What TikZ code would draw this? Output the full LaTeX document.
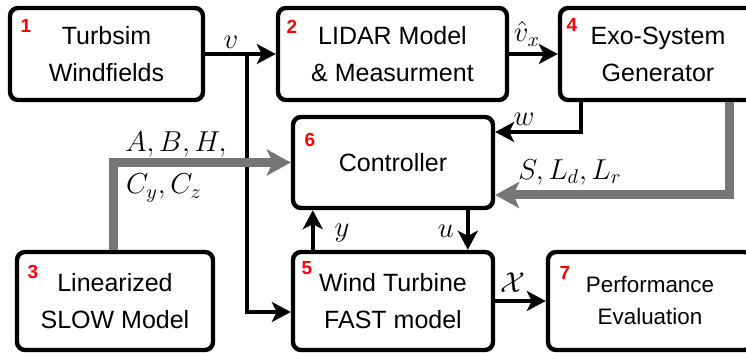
\documentclass[tikz,border=0pt]{standalone}
\usepackage{fontspec}
\setmainfont{Liberation Sans}
\usetikzlibrary{arrows.meta}
\definecolor{bargray}{RGB}{118,118,118}
\begin{document}
\begin{tikzpicture}[
	x=0.5pt, y=-0.5pt,
	block/.style={ draw, line width=2.2pt, rounded corners=4pt, align=center, inner sep=0pt, font=\fontsize{12.5}{18.5}\selectfont },
	num/.style={ red, font=\fontsize{9.5}{10}\selectfont\bfseries, inner sep=0pt },
	sig/.style={ line width=2pt, -{Stealth[length=9.5pt,width=10pt,inset=2.5pt]} },
	par/.style={ bargray, line width=4.5pt, -{Stealth[length=12pt,width=13pt,inset=3pt]} },
	lab/.style={ font=\fontsize{14.5}{17}\selectfont, inner sep=0pt }
]
\clip (0,0) rectangle (746,353);

\node[block, minimum width=96.5pt, minimum height=46pt] at (106.5,54) (turbsim) {Turbsim\\Windfields};
\node[block, minimum width=114.5pt, minimum height=46pt] at (392.5,54) (lidar) {LIDAR Model\\\& Measurment};
\node[block, minimum width=98pt, minimum height=46pt] at (658,54) (exo) {Exo-System\\Generator};
\node[block, minimum width=100pt, minimum height=45.5pt] at (393,162.5) (ctrl) {Controller};
\node[block, minimum width=98pt, minimum height=49pt] at (115,301) (slow) {Linearized\\SLOW Model};
\node[block, minimum width=100pt, minimum height=49pt] at (393,301) (fast) {Wind Turbine\\FAST model};
\node[block, minimum width=102pt, minimum height=49pt, font=\fontsize{11.2}{16}\selectfont] at (650,301) (perf) {Performance\\Evaluation};

\node[num] at (26,26) (n1) {1};
\node[num] at (292,27) (n2) {2};
\node[num] at (572,25) (n4) {4};
\node[num] at (310,140) (n6) {6};
\node[num] at (33,272) (n3) {3};
\node[num] at (307,268) (n5) {5};
\node[num] at (565,273) (n7) {7};

\coordinate (vsplit) at (247,54);
\draw[sig] (turbsim) -- (lidar);
\draw[sig] (vsplit) |- ([yshift=-5.5pt]fast.west);
\draw[sig] (lidar) -- (exo);
\draw[sig] ([xshift=11.5pt]exo.south west) |- ([yshift=15.25pt]ctrl.east);
\draw[par] ([xshift=86pt]exo.south west) |- ([yshift=-16.25pt]ctrl.east);
\draw[par] ([xshift=-1pt]slow.north) |- (ctrl.west);
\draw[sig] ([xshift=11pt]fast.north west) -- ([xshift=11pt]ctrl.south west);
\draw[sig] ([xshift=88.5pt]ctrl.south west) -- ([xshift=88.5pt]fast.north west);
\draw[sig] (fast) -- (perf);

\node[lab] at (231,42) (lv) {$v$};
\node[lab] at (527,34) (lvx) {$\hat{v}_x$};
\node[lab] at (524,119) (lw) {$w$};
\node[lab] at (570,172) (ls) {$S, L_d, L_r$};
\node[lab] at (176,144) (labh) {$A, B, H,$};
\node[lab] at (164,188) (lcyz) {$C_y, C_z$};
\node[lab] at (342,233) (ly) {$y$};
\node[lab] at (446,231) (lu) {$u$};
\node[lab] at (513,283) (lx) {$\mathcal{X}$};

\end{tikzpicture}
\end{document}
